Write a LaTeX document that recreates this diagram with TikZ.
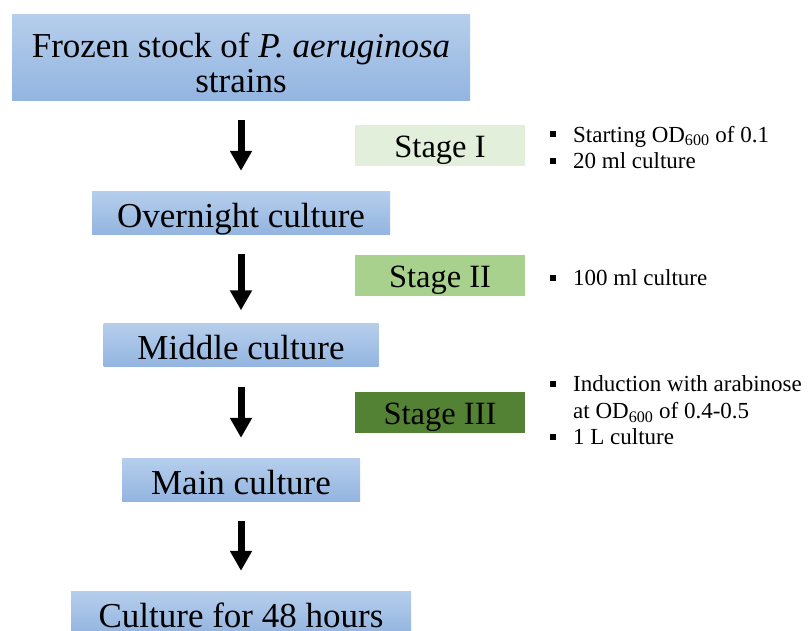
\documentclass[tikz,border=0pt]{standalone}
\usepackage{fontspec}
\setmainfont{Liberation Serif}
\usetikzlibrary{arrows.meta,positioning}

\definecolor{boxtop}{RGB}{182,206,236}
\definecolor{boxbot}{RGB}{147,181,224}
\definecolor{stageone}{RGB}{226,239,218}
\definecolor{stagetwo}{RGB}{169,209,142}
\definecolor{stagethree}{RGB}{84,130,53}
\newcommand{\sqbul}{\rule[0.2em]{0.26em}{0.26em}}

\tikzset{
    cultbox/.style={top color=boxtop, bottom color=boxbot, inner sep=0pt, minimum height=43pt, align=center, text height=31.5pt, text depth=2.5pt, font=\fontsize{35}{35}\selectfont},
    stagebox/.style={minimum width=170pt, minimum height=41pt, inner sep=0pt, text height=26pt, text depth=2pt, font=\fontsize{32.5}{33}\selectfont},
    notetext/.style={anchor=west, inner sep=0pt, font=\fontsize{23}{26.5}\selectfont},
    bigarrow/.style={line width=7pt, -{Triangle[width=21pt,length=20pt]}, shorten <=20pt, shorten >=20pt}
}

\begin{document}
\begin{tikzpicture}[x=1pt,y=-1pt]
        \useasboundingbox (0,0) rectangle (808,630);
        % Culture steps
        \node[cultbox, minimum width=458pt, minimum height=86pt, text height=70pt, text depth=0pt] (frozen) at (241,57) {Frozen stock of \textit{P. aeruginosa}\\strains};
        \node[cultbox, minimum width=298pt] (overnight) at (241,212.5) {Overnight culture};
        \node[cultbox, minimum width=275pt] (middle) at (241,345) {Middle culture};
        \node[cultbox, minimum width=238pt] (mainc) at (241,479.5) {Main culture};
        \node[cultbox, minimum width=340pt] (final) at (241,612.5) {Culture for 48 hours};

        \draw[bigarrow] (frozen.south) -- (overnight.north);
        \draw[bigarrow, shorten >=13pt] (overnight.south) -- (middle.north);
        \draw[bigarrow] (middle.south) -- (mainc.north);
        \draw[bigarrow] (mainc.south) -- (final.north);

        % Stages and their conditions
        \node[stagebox, fill=stageone] (stage1) at (440,145) {Stage I};
        \node[stagebox, fill=stagetwo] (stage2) at (440,275.5) {Stage II};
        \node[stagebox, fill=stagethree] (stage3) at (440,412.5) {Stage III};

        \node[notetext] (note1) at (550,150) {\begin{tabular}{@{}l@{\hspace{17pt}}l@{}}
            \sqbul & Starting OD\textsubscript{600} of 0.1\\
            \sqbul & 20 ml culture
        \end{tabular}};
        \node[notetext] (note2) at (550,280) {\begin{tabular}{@{}l@{\hspace{17pt}}l@{}}
            \sqbul & 100 ml culture
        \end{tabular}};
        \node[notetext] (note3) at (550,413) {\begin{tabular}{@{}l@{\hspace{17pt}}l@{}}
            \sqbul & Induction with arabinose\\
                   & at OD\textsubscript{600} of 0.4-0.5\\
            \sqbul & 1 L culture
        \end{tabular}};
\end{tikzpicture}
\end{document}
